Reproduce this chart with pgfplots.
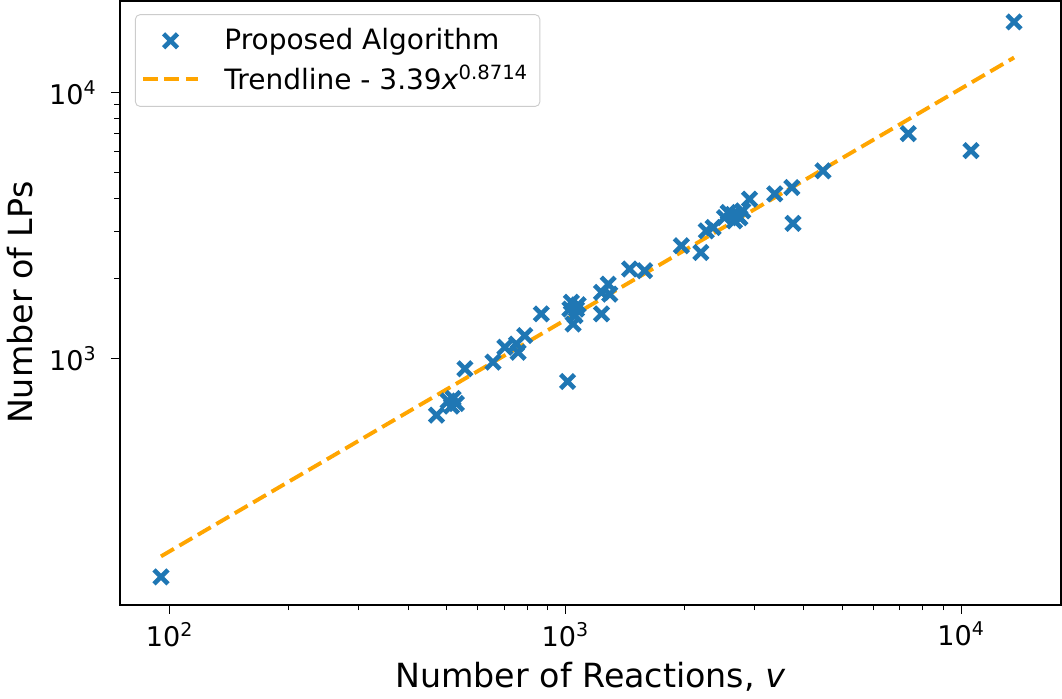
\documentclass[border=0pt]{standalone}
\usepackage{pgfplots}
\pgfplotsset{compat=1.18}
\usepackage{fontspec}
\setmainfont{DejaVu Sans}
\definecolor{mplblue}{HTML}{1F77B4}
\definecolor{mplorange}{HTML}{FFA500}
\pgfplotsset{
  markleg/.style={legend image code/.code={\draw[##1] plot[only marks] coordinates {(0.42cm,0cm)};\path[draw=none] (0cm,0cm) -- (0.84cm+9pt,0cm);}},
  lineleg/.style={legend image code/.code={\draw[##1] (0cm,0cm) -- (0.84cm,0cm);\path[draw=none] (0cm,0cm) -- (0.84cm+9pt,0cm);}},
}
\begin{document}
\begin{tikzpicture}
\begin{axis}[
  xmode=log, ymode=log,
  width=410pt, height=263pt, scale only axis,
  xmin=74.8, xmax=17890, ymin=117.9, ymax=22180,
  xtick={100,1000,10000}, xticklabels={10\textsuperscript{2},10\textsuperscript{3},10\textsuperscript{4}},
  ytick={1000,10000}, yticklabels={10\textsuperscript{3},10\textsuperscript{4}},
  tick align=outside, tick pos=left,
  major tick length=4pt, minor tick length=2.4pt,
  every tick/.style={black, line width=0.4pt},
  axis line style={line width=0.8pt},
  ticklabel style={font=\fontsize{11.8}{13}\selectfont},
  yticklabel style={xshift=-2.5pt},
  xlabel={Number of Reactions, \textit{v}},
  ylabel={Number of LPs},
  label style={font=\fontsize{14.5}{16}\selectfont},
  legend style={at={(0.016,0.978)}, anchor=north west, draw=black!20, rounded corners=2pt,
    font=\fontsize{12.2}{14}\selectfont, row sep=1pt, inner xsep=2.5pt, inner ysep=4pt,
    nodes={inner xsep=2.5pt}},
  legend cell align=left,
]
\addplot[only marks, mark=x, mark size=4.3pt, mplblue, line width=2pt, markleg] coordinates {
(95,150) (472,610) (505,690) (515,660) (520,705) (530,675) (557,912)
(656,966) (703,1100) (752,1131) (759,1053) (789,1217) (869,1469)
(1012,817) (1026,1531) (1035,1624) (1045,1345) (1057,1446) (1066,1531)
(1077,1590) (1233,1469) (1233,1771) (1282,1901) (1294,1743) (1453,2168)
(1585,2137) (1963,2653) (2199,2502) (2270,3018) (2361,3106) (2523,3387)
(2578,3540) (2675,3290) (2730,3436) (2806,3590) (2650,3480) (2760,3380)
(2918,3973) (3381,4159) (3733,4395) (3758,3221) (4477,5080) (7350,7013)
(10590,6055) (13610,18490)
};
\addlegendentry{Proposed Algorithm}
\addplot[mplorange, line width=1.7pt, dash pattern=on 6.5pt off 2.8pt, lineleg] coordinates {
(95,179.3) (13610,13570)
};
\addlegendentry{Trendline - 3.39\textit{x}\textsuperscript{0.8714}}
\end{axis}
\end{tikzpicture}
\end{document}
